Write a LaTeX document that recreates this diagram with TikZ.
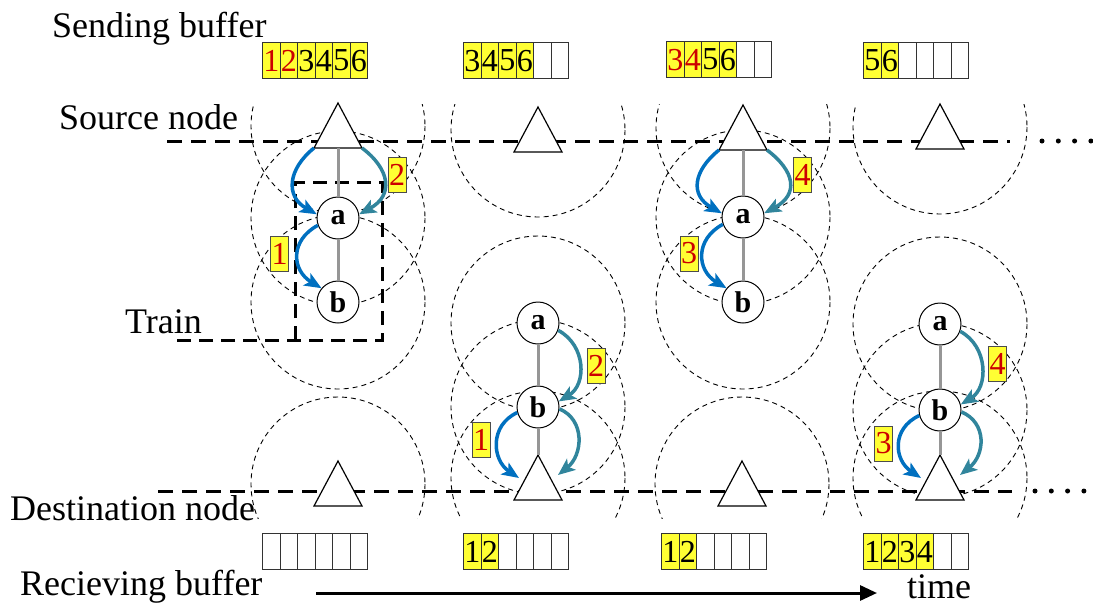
\documentclass[tikz,border=0pt]{standalone}
\usepackage{fontspec}
\setmainfont{Liberation Serif}
\usetikzlibrary{arrows.meta}
\definecolor{myblue}{RGB}{0,112,192}
\definecolor{myteal}{RGB}{49,133,156}
\definecolor{myyellow}{RGB}{255,255,51}
\definecolor{myred}{RGB}{204,0,0}
\definecolor{linkgray}{RGB}{150,150,150}
\newcommand\tri[3]{%
  \draw[tri] (#2-24,#3+45) coordinate (#1L) -- (#2,#3) coordinate (#1T) -- (#2+24,#3+45) coordinate (#1R) -- cycle;
  \coordinate (#1B) at (#2,#3+45);
  \coordinate (#1p) at (#2-19,#3+23);
  \coordinate (#1q) at (#2+20,#3+20);}
\newcommand\buf[4]{\foreach \t/\c/\f [count=\k] in {#4} {\node[cell,fill=\f,text=\c] (#1\k) at (#2+17.5*\k-17.5,#3) {\t};}}
\newcommand\upperarrows[1]{%
  \draw[barr] (s#1L) .. controls +(-26,21) and +(-32,-18) .. (a#1.170);
  \draw[tarr] (s#1R) .. controls +(28,21) and +(35,-19) .. (a#1.10);
  \draw[barr] (a#1.200) .. controls +(-28,15) and +(-30,-18) .. (b#1.140);}
\newcommand\lowerarrows[1]{%
  \draw[tarr] (a#1.-20) .. controls +(28,15) and +(28,-17) .. (b#1.15);
  \draw[barr] (b#1.195) .. controls +(-28,13) and +(-27,-18) .. (d#1p);
  \draw[tarr] (b#1.-5) .. controls +(26,11) and +(25,-20) .. (d#1q);}
\begin{document}
\begin{tikzpicture}[x=1pt,y=-1pt,
  lbl/.style={font=\fontsize{36}{40}\selectfont, inner sep=0pt, anchor=base west},
  rng/.style={draw=black, line width=0.9pt, dash pattern=on 5pt off 4pt},
  axis/.style={draw=black, line width=3pt, dash pattern=on 15pt off 9pt},
  dots/.style={draw=black, line width=5pt, line cap=round, dash pattern=on 0pt off 16.3pt},
  link/.style={draw=linkgray, line width=3pt},
  tri/.style={draw=black, fill=white, line width=1.2pt, line join=miter},
  mote/.style={circle, draw=black, fill=white, line width=1pt, minimum size=42pt, inner sep=0pt, font=\fontsize{30}{30}\selectfont\bfseries},
  barr/.style={draw=myblue, line width=3.5pt, -{Stealth[length=17pt,width=14pt,inset=4pt]}},
  tarr/.style={draw=myteal, line width=3.5pt, -{Stealth[length=17pt,width=14pt,inset=4pt]}},
  tag/.style={draw=black!70, fill=myyellow, line width=0.8pt, minimum width=18pt, minimum height=35pt, inner sep=0pt, text=myred, font=\fontsize{32}{32}\selectfont},
  cell/.style={draw=black!80, line width=1.2pt, minimum width=17.5pt, minimum height=36pt, inner sep=0pt, anchor=north west, font=\fontsize{32}{32}\selectfont}]
\useasboundingbox (0,0) rectangle (1093,606);

% ranges
\begin{scope}
\clip (0,104) rectangle (1093,518);
\foreach \cx/\cy in {338/126,338/218,338/302,338/484,
                     538/130,538/323,538/407,538/478,
                     743/128,743/217,743/302,742/484,
                     940/127,940/324,940/410,940/478}
  \draw[rng] (\cx,\cy) circle (87);
\end{scope}

% source and destination lines
\coordinate (src0) at (167,141); \coordinate (src1) at (1010,141);
\coordinate (dst0) at (158,491); \coordinate (dst1) at (1012,491);
\draw[axis] (src0) -- (src1);
\draw[axis] (dst0) -- (dst1);
\coordinate (sd0) at (1042,141); \coordinate (sd1) at (1093,141);
\coordinate (dd0) at (1035,491); \coordinate (dd1) at (1086,491);
\draw[dots] (sd0) -- (sd1);
\draw[dots] (dd0) -- (dd1);

% train box
\coordinate (tr0) at (172,340); \coordinate (tr1) at (382,340);
\coordinate (tr2) at (382,182); \coordinate (tr3) at (295,182);
\coordinate (tr4) at (295,340);
\draw[axis, dash pattern=on 14pt off 8pt] (tr4) -- (tr3) -- (tr2) -- (tr1) -- (tr0);

% triangles
\tri{s1}{338}{103}
\tri{s2}{538}{107}
\tri{s3}{743}{105}
\tri{s4}{940}{104}
\tri{d1}{338}{461}
\tri{d2}{538}{455}
\tri{d3}{742}{461}
\tri{d4}{940}{455}

% motes
\node[mote] (a1) at (338,218) {a};
\node[mote] (b1) at (338,302) {b};
\node[mote] (a2) at (538,323) {a};
\node[mote] (b2) at (538,407) {b};
\node[mote] (a3) at (743,217) {a};
\node[mote] (b3) at (743,302) {b};
\node[mote] (a4) at (940,324) {a};
\node[mote] (b4) at (940,410) {b};

% links
\draw[link] (s1B) -- (a1.north); \draw[link] (a1.south) -- (b1.north);
\draw[link] (s3B) -- (a3.north); \draw[link] (a3.south) -- (b3.north);
\draw[link] (a2.south) -- (b2.north); \draw[link] (b2.south) -- (d2T);
\draw[link] (a4.south) -- (b4.north); \draw[link] (b4.south) -- (d4T);

% transmissions
\upperarrows{1}
\upperarrows{3}
\lowerarrows{2}
\lowerarrows{4}

% packet tags
\node[tag] (g12) at (397,174.5) {2};
\node[tag] (g11) at (279.5,253.5) {1};
\node[tag] (g22) at (596,365.5) {2};
\node[tag] (g21) at (481,439.5) {1};
\node[tag] (g34) at (802.5,174.5) {4};
\node[tag] (g33) at (689,253.5) {3};
\node[tag] (g44) at (997.5,363.5) {4};
\node[tag] (g43) at (883.5,443.5) {3};

% buffers
\buf{sa}{262}{42}{1/myred/myyellow,2/myred/myyellow,3/black/myyellow,4/black/myyellow,5/black/myyellow,6/black/myyellow}
\buf{sb}{463}{42}{3/black/myyellow,4/black/myyellow,5/black/myyellow,6/black/myyellow,\relax/black/white,\relax/black/white}
\buf{sc}{666}{41}{3/myred/myyellow,4/myred/myyellow,5/black/myyellow,6/black/myyellow,\relax/black/white,\relax/black/white}
\buf{sd}{863}{42}{5/black/myyellow,6/black/myyellow,\relax/black/white,\relax/black/white,\relax/black/white,\relax/black/white}
\buf{ra}{262}{533}{\relax/black/white,\relax/black/white,\relax/black/white,\relax/black/white,\relax/black/white,\relax/black/white}
\buf{rb}{463}{533}{1/black/myyellow,2/black/myyellow,\relax/black/white,\relax/black/white,\relax/black/white,\relax/black/white}
\buf{rc}{661}{533}{1/black/myyellow,2/black/myyellow,\relax/black/white,\relax/black/white,\relax/black/white,\relax/black/white}
\buf{rd}{863}{533}{1/black/myyellow,2/black/myyellow,3/black/myyellow,4/black/myyellow,\relax/black/white,\relax/black/white}

% time arrow
\coordinate (t0) at (316,593); \coordinate (t1) at (877,593);
\draw[line width=3pt, -{Triangle[length=17pt,width=15pt]}] (t0) -- (t1);

% labels
\node[lbl] (lsend) at (52,37) {Sending buffer};
\node[lbl] (lsrc) at (59,129) {Source node};
\node[lbl] (ltrain) at (125,333) {Train};
\node[lbl] (ldst) at (10,520) {Destination node};
\node[lbl] (lrecv) at (20,595) {Recieving buffer};
\node[lbl] (ltime) at (907,598) {time};
\end{tikzpicture}
\end{document}
